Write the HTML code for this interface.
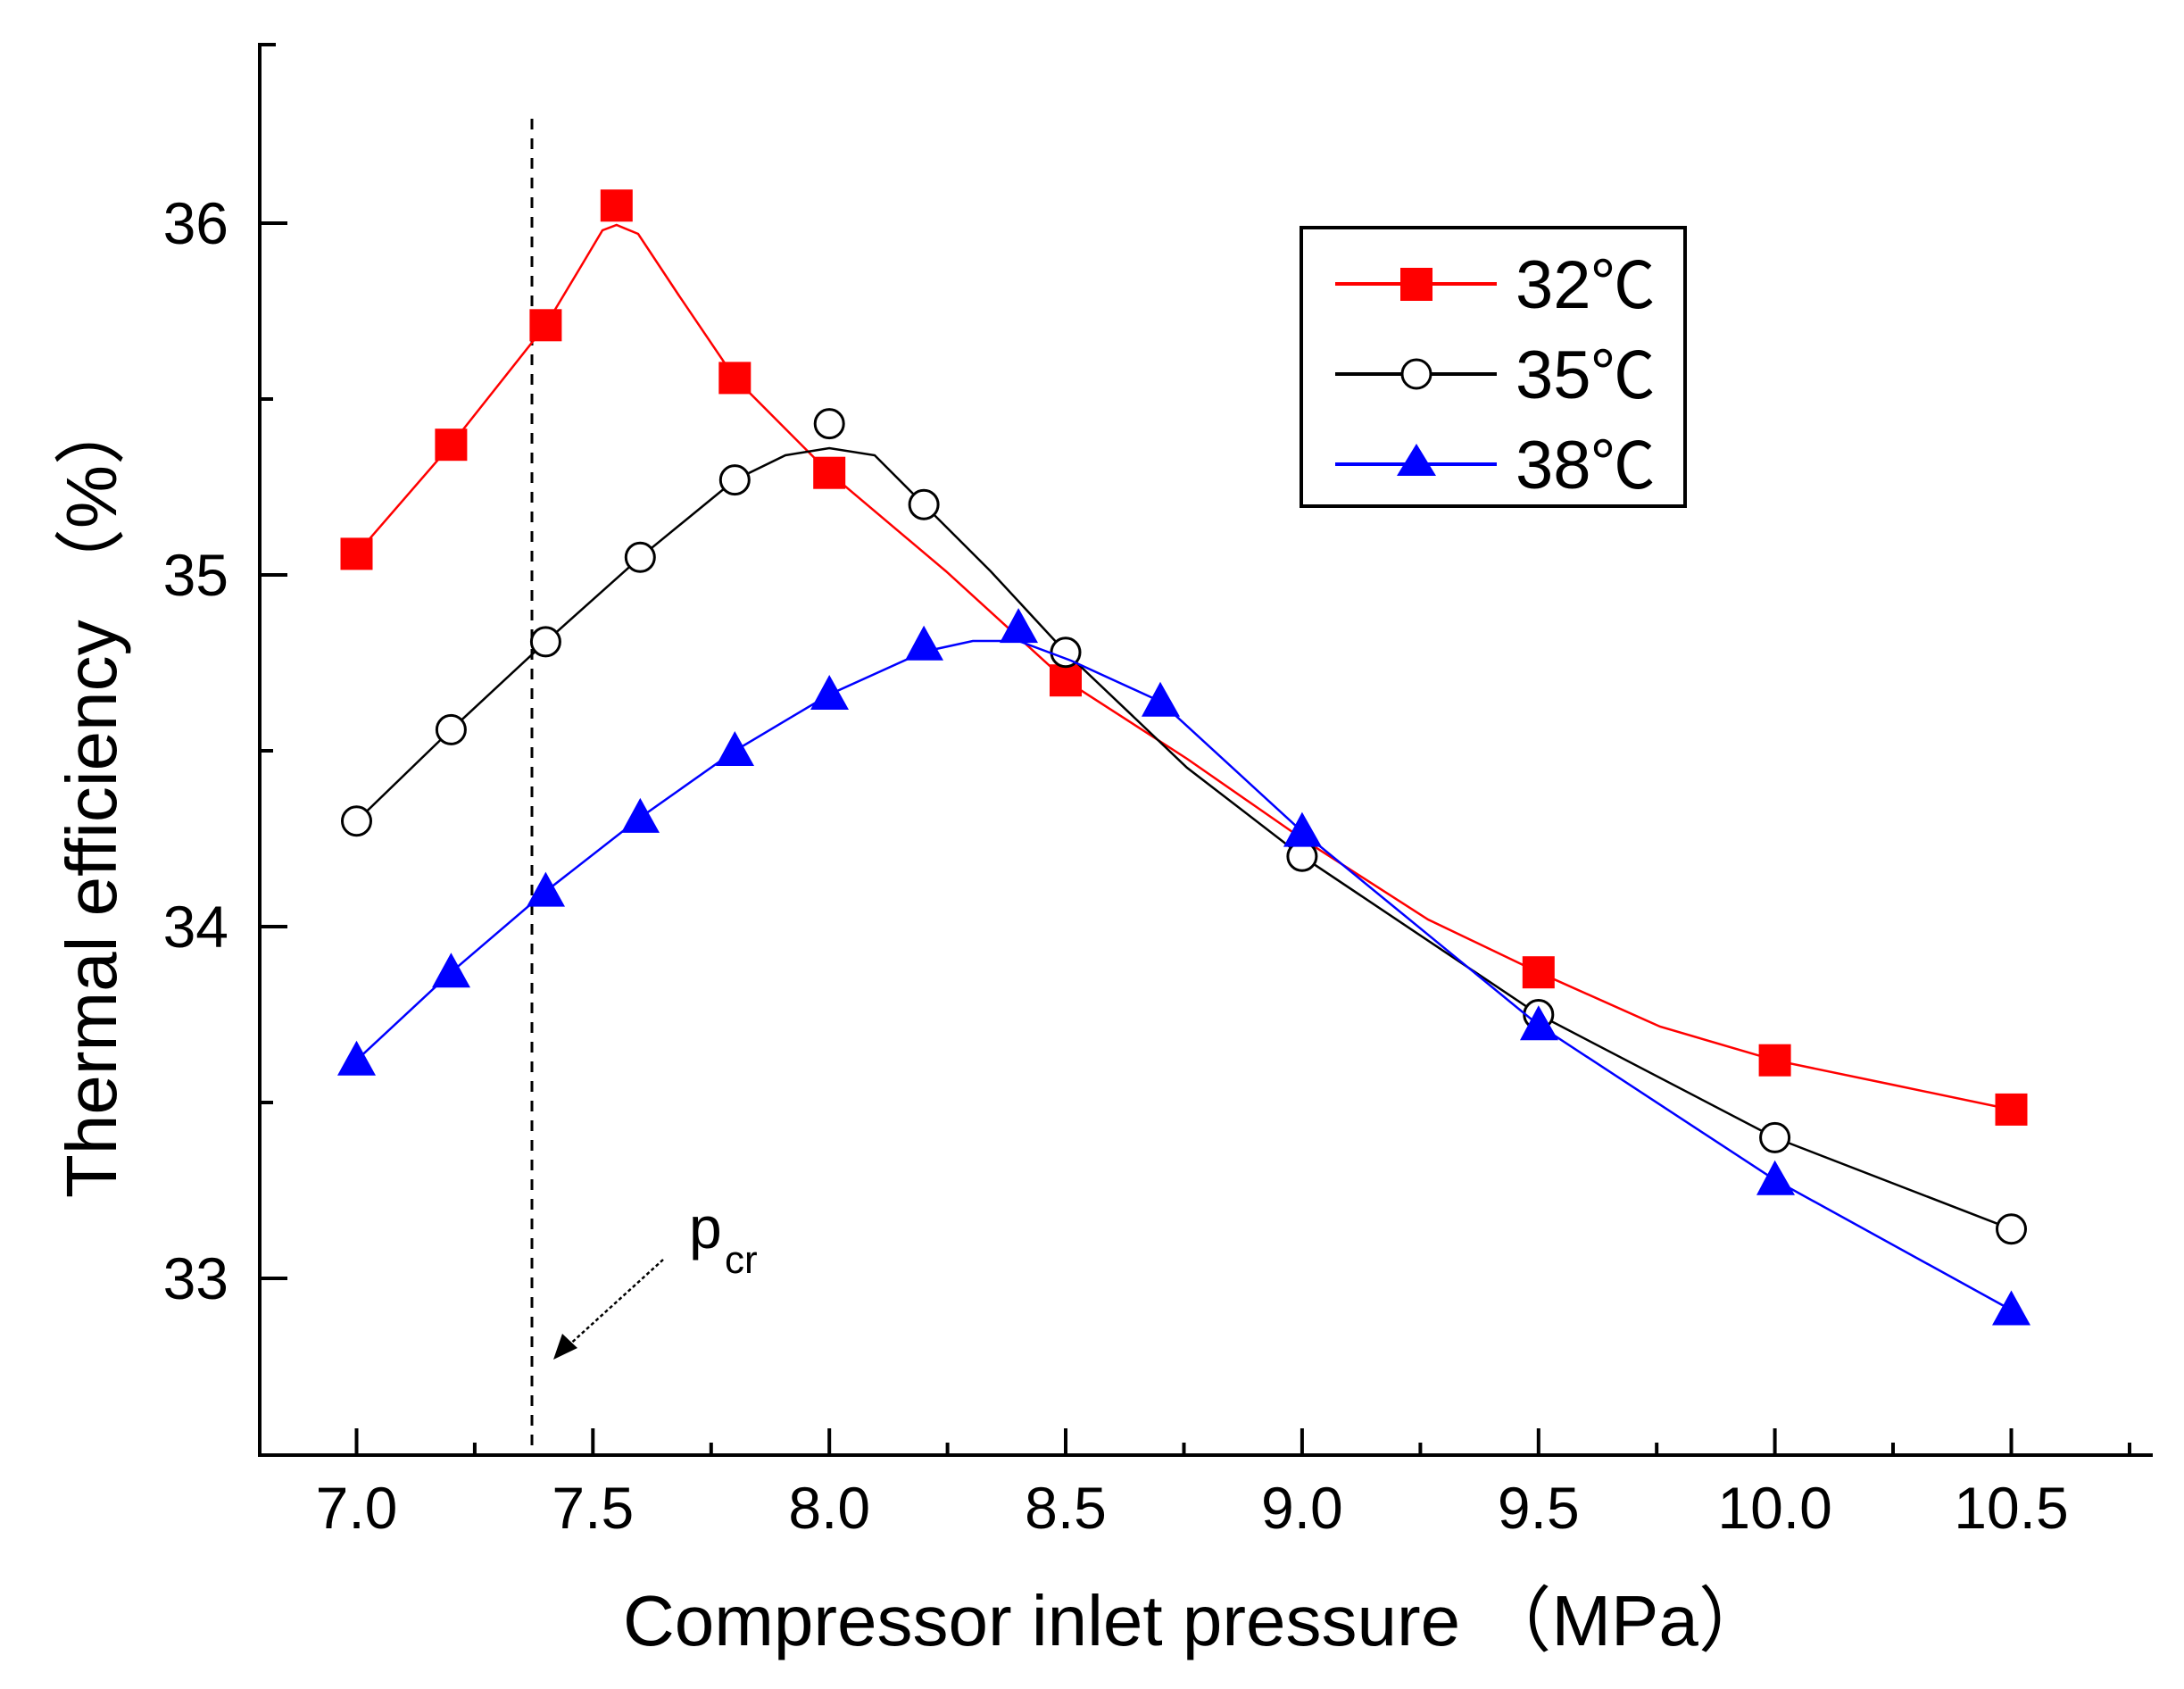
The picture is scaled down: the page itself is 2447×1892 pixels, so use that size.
<!DOCTYPE html>
<html><head><meta charset="utf-8"><style>
html,body{margin:0;padding:0;background:#fff;}
svg{display:block;}
text{font-family:"Liberation Sans","Noto Sans CJK SC",sans-serif;fill:#000;}
</style></head><body>
<svg width="2447" height="1892" viewBox="0 0 2447 1892" xmlns="http://www.w3.org/2000/svg">
<rect width="2447" height="1892" fill="#fff"/>
<!-- axes -->
<g stroke="#000" stroke-width="4" fill="none">
<line x1="291" y1="48" x2="291" y2="1632"/>
<line x1="289" y1="1630" x2="2412" y2="1630"/>
<!-- y ticks -->
<line x1="291" y1="250" x2="322" y2="250"/>
<line x1="291" y1="644" x2="322" y2="644"/>
<line x1="291" y1="1038" x2="322" y2="1038"/>
<line x1="291" y1="1432" x2="322" y2="1432"/>
<line x1="291" y1="50" x2="309" y2="50"/>
<line x1="291" y1="447" x2="306" y2="447"/>
<line x1="291" y1="841" x2="306" y2="841"/>
<line x1="291" y1="1235" x2="306" y2="1235"/>
<!-- x ticks -->
<line x1="399.5" y1="1630" x2="399.5" y2="1600"/>
<line x1="664.3" y1="1630" x2="664.3" y2="1600"/>
<line x1="929.2" y1="1630" x2="929.2" y2="1600"/>
<line x1="1194" y1="1630" x2="1194" y2="1600"/>
<line x1="1458.9" y1="1630" x2="1458.9" y2="1600"/>
<line x1="1723.8" y1="1630" x2="1723.8" y2="1600"/>
<line x1="1988.6" y1="1630" x2="1988.6" y2="1600"/>
<line x1="2253.5" y1="1630" x2="2253.5" y2="1600"/>
<line x1="531.9" y1="1630" x2="531.9" y2="1616"/>
<line x1="796.8" y1="1630" x2="796.8" y2="1616"/>
<line x1="1061.6" y1="1630" x2="1061.6" y2="1616"/>
<line x1="1326.5" y1="1630" x2="1326.5" y2="1616"/>
<line x1="1591.4" y1="1630" x2="1591.4" y2="1616"/>
<line x1="1856.2" y1="1630" x2="1856.2" y2="1616"/>
<line x1="2121" y1="1630" x2="2121" y2="1616"/>
<line x1="2386" y1="1630" x2="2386" y2="1616"/>
</g>
<!-- tick labels -->
<g font-size="66" text-anchor="end">
<text x="256" y="273">36</text>
<text x="256" y="667">35</text>
<text x="256" y="1061">34</text>
<text x="256" y="1455">33</text>
</g>
<g font-size="66" text-anchor="middle">
<text x="399.5" y="1712">7.0</text>
<text x="664.3" y="1712">7.5</text>
<text x="929.2" y="1712">8.0</text>
<text x="1194" y="1712">8.5</text>
<text x="1458.9" y="1712">9.0</text>
<text x="1723.8" y="1712">9.5</text>
<text x="1988.6" y="1712">10.0</text>
<text x="2253.5" y="1712">10.5</text>
</g>
<!-- axis titles -->
<text x="698" y="1843" font-size="80">Compressor inlet pressure （MPa）</text>
<text transform="translate(130,1342) rotate(-90)" font-size="80">Thermal efficiency （%）</text>
<!-- critical pressure -->
<line x1="596" y1="133" x2="596" y2="1628" stroke="#000" stroke-width="3" stroke-dasharray="12,10"/>
<line x1="743" y1="1411" x2="635" y2="1509" stroke="#000" stroke-width="2.5" stroke-dasharray="4,3"/>
<polygon points="620,1523 630,1494 647,1510" fill="#000"/>
<text x="772" y="1398" font-size="66">p</text>
<text x="812" y="1426" font-size="44">cr</text>
<!-- red series -->
<polyline fill="none" stroke="#f00" stroke-width="2.5" points="399.5,620.4 505.4,498.2 611.4,364.3 650,300 675,258 690.8,252 715,262 760,330 823.3,423.4 929.2,529.7 1060,640 1194,762.2 1330,850 1458.9,939.5 1600,1030 1723.8,1089.2 1860,1150 1988.6,1187.7 2120,1215 2253.5,1242.9"/>
<g fill="#f00">
<rect x="381.5" y="602.4" width="36" height="36"/>
<rect x="487.4" y="480.2" width="36" height="36"/>
<rect x="593.4" y="346.3" width="36" height="36"/>
<rect x="672.8" y="212.3" width="36" height="36"/>
<rect x="805.3" y="405.4" width="36" height="36"/>
<rect x="911.2" y="511.7" width="36" height="36"/>
<rect x="1176" y="744.2" width="36" height="36"/>
<rect x="1705.8" y="1071.2" width="36" height="36"/>
<rect x="1970.6" y="1169.7" width="36" height="36"/>
<rect x="2235.5" y="1224.9" width="36" height="36"/>
</g>
<!-- black series -->
<polyline fill="none" stroke="#000" stroke-width="2.5" points="399.5,919.8 505.4,817.4 611.4,718.9 717.3,624.3 823.3,537.6 880,510 929.2,502 980,510 1035.1,565.2 1110,640 1194,730.7 1330,860 1458.9,959.2 1723.8,1136.5 1988.6,1274.4 2253.5,1376.8"/>
<g fill="#fff" stroke="#000" stroke-width="3">
<circle cx="399.5" cy="919.8" r="16"/>
<circle cx="505.4" cy="817.4" r="16"/>
<circle cx="611.4" cy="718.9" r="16"/>
<circle cx="717.3" cy="624.3" r="16"/>
<circle cx="823.3" cy="537.6" r="16"/>
<circle cx="929.2" cy="474.6" r="16"/>
<circle cx="1035.1" cy="565.2" r="16"/>
<circle cx="1194" cy="730.7" r="16"/>
<circle cx="1458.9" cy="959.2" r="16"/>
<circle cx="1723.8" cy="1136.5" r="16"/>
<circle cx="1988.6" cy="1274.4" r="16"/>
<circle cx="2253.5" cy="1376.8" r="16"/>
</g>
<!-- blue series -->
<polyline fill="none" stroke="#00f" stroke-width="2.5" points="399.5,1187.7 505.4,1089.2 611.4,998.6 717.3,915.9 823.3,841 929.2,778 1035.1,730 1090,718 1141.1,718 1200,740 1300,785.8 1458.9,931.6 1723.8,1148.3 1988.6,1321.7 2253.5,1467.5"/>
<g fill="#00f">
<polygon points="399.5,1165.7 378,1204.7 421,1204.7"/>
<polygon points="505.4,1067.2 484,1106.2 527,1106.2"/>
<polygon points="611.4,976.6 590,1015.6 633,1015.6"/>
<polygon points="717.3,893.9 696,932.9 739,932.9"/>
<polygon points="823.3,819 802,858 845,858"/>
<polygon points="929.2,756 908,795 951,795"/>
<polygon points="1035.1,700.8 1014,739.8 1057,739.8"/>
<polygon points="1141.1,681.1 1120,720.1 1163,720.1"/>
<polygon points="1300,763.8 1279,802.8 1322,802.8"/>
<polygon points="1458.9,909.6 1438,948.6 1481,948.6"/>
<polygon points="1723.8,1126.3 1703,1165.3 1746,1165.3"/>
<polygon points="1988.6,1299.7 1968,1338.7 2011,1338.7"/>
<polygon points="2253.5,1445.5 2232,1484.5 2275,1484.5"/>
</g>
<!-- legend -->
<rect x="1458" y="255" width="430" height="312" fill="#fff" stroke="#000" stroke-width="4"/>
<line x1="1496" y1="318" x2="1677" y2="318" stroke="#f00" stroke-width="4"/>
<rect x="1569" y="300" width="36" height="37" fill="#f00"/>
<line x1="1496" y1="419" x2="1677" y2="419" stroke="#000" stroke-width="4"/>
<circle cx="1587" cy="419" r="16" fill="#fff" stroke="#000" stroke-width="3"/>
<line x1="1496" y1="520" x2="1677" y2="520" stroke="#00f" stroke-width="4"/>
<polygon points="1587,497 1565,533 1609,533" fill="#00f"/>
<g font-size="76">
<text x="1698" y="345">32<tspan font-family="Noto Sans CJK SC,sans-serif" font-size="72">℃</tspan></text>
<text x="1698" y="446">35<tspan font-family="Noto Sans CJK SC,sans-serif" font-size="72">℃</tspan></text>
<text x="1698" y="547">38<tspan font-family="Noto Sans CJK SC,sans-serif" font-size="72">℃</tspan></text>
</g>
</svg>
</body></html>
